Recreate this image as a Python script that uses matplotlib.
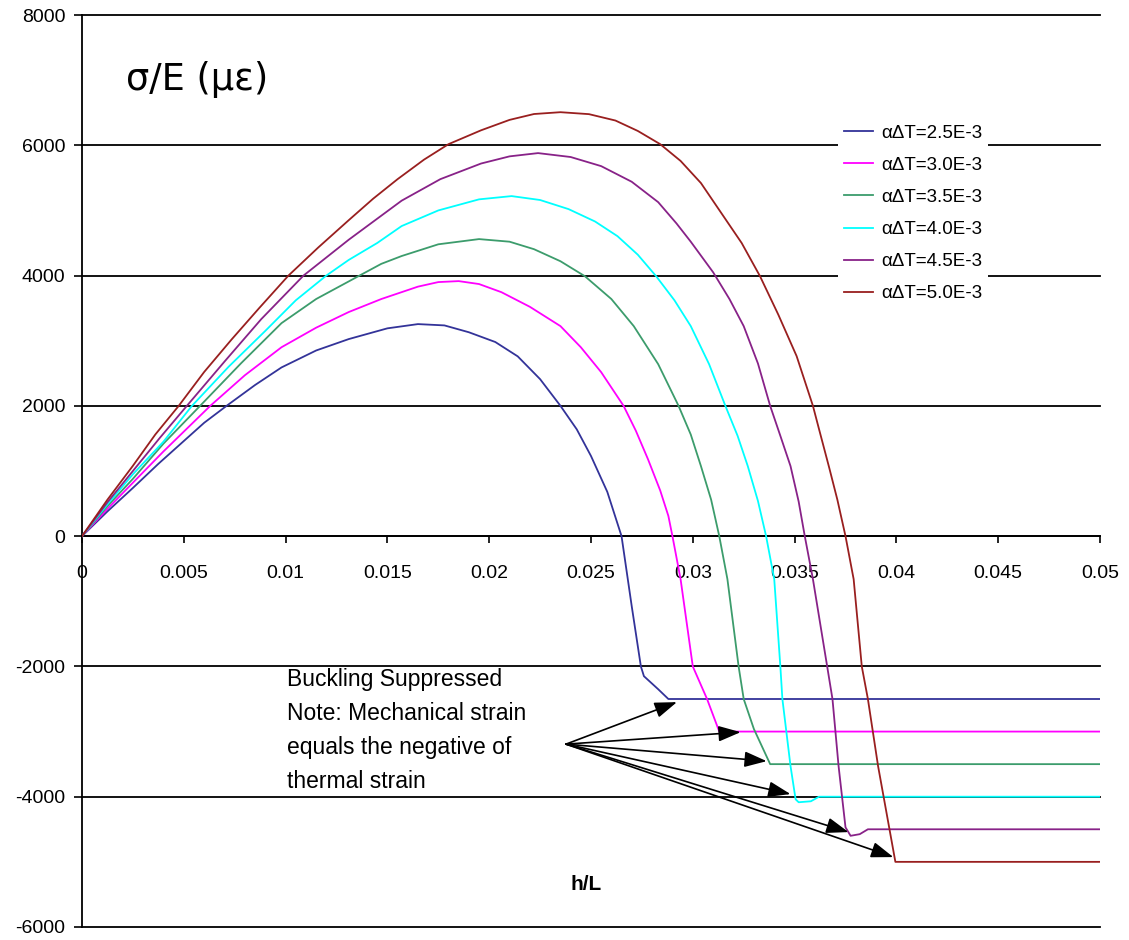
import matplotlib.pyplot as plt
from matplotlib.ticker import FixedLocator, FixedFormatter

plt.rcParams['font.family'] = ['Liberation Sans', 'DejaVu Sans']
plt.rcParams['axes.unicode_minus'] = False

# h/L values and sigma/E (micro-strain) for each thermal load
labels = ['αΔT=2.5E-3', 'αΔT=3.0E-3', 'αΔT=3.5E-3', 'αΔT=4.0E-3', 'αΔT=4.5E-3', 'αΔT=5.0E-3']
colors = ['#333399', '#ff00ff', '#3c9c6c', '#00ffff', '#882288', '#991f1f']

hl_25 = [0, 0.00125, 0.0025, 0.00375, 0.005, 0.006, 0.0071, 0.0085, 0.0098, 0.0115, 0.0131,
         0.0150, 0.0165, 0.0178, 0.0190, 0.0203, 0.0214, 0.0225, 0.0235, 0.0243, 0.0250,
         0.0258, 0.0265, 0.0270, 0.02745, 0.0276, 0.0283, 0.0288, 0.05]
s_25 = [0, 380, 740, 1110, 1460, 1740, 2000, 2320, 2590, 2850, 3025,
        3190, 3255, 3235, 3130, 2980, 2760, 2410, 2000, 1640, 1230,
        680, 0, -1075, -2000, -2150, -2350, -2500, -2500]

hl_30 = [0, 0.00125, 0.0025, 0.004, 0.0063, 0.008, 0.0098, 0.0115, 0.0131, 0.0147, 0.0165,
         0.0175, 0.0185, 0.0195, 0.0206, 0.0220, 0.0235, 0.0245, 0.0255, 0.0266, 0.0272,
         0.0278, 0.0284, 0.0288, 0.0290, 0.0294, 0.0300, 0.0307, 0.0313, 0.05]
s_30 = [0, 420, 820, 1300, 2000, 2470, 2900, 3200, 3440, 3640, 3830,
        3900, 3915, 3870, 3745, 3520, 3224, 2900, 2517, 2000, 1620,
        1180, 700, 310, 0, -660, -2000, -2500, -3000, -3000]

hl_35 = [0, 0.00125, 0.0025, 0.004, 0.0058, 0.0078, 0.0098, 0.0115, 0.0131, 0.01363, 0.0147,
         0.0157, 0.0175, 0.0195, 0.0210, 0.0222, 0.0235, 0.0247, 0.0260, 0.0271, 0.0283,
         0.0293, 0.0299, 0.0304, 0.0309, 0.0313, 0.0317, 0.03225, 0.0325, 0.0330, 0.0338, 0.05]
s_35 = [0, 460, 880, 1420, 2000, 2650, 3270, 3640, 3910, 4000, 4180,
        4300, 4480, 4560, 4520, 4405, 4220, 3990, 3640, 3224, 2640,
        2000, 1560, 1075, 560, 0, -660, -2000, -2500, -2960, -3500, -3500]

hl_40 = [0, 0.00125, 0.0025, 0.004, 0.0054, 0.0072, 0.0090, 0.0105, 0.0120, 0.0131, 0.0145,
         0.0157, 0.0175, 0.0195, 0.0211, 0.0225, 0.0239, 0.0252, 0.0263, 0.0273, 0.0282,
         0.0291, 0.0299, 0.0308, 0.0316, 0.0322, 0.0327, 0.0332, 0.0336, 0.0340, 0.0343,
         0.0344, 0.0348, 0.03505, 0.0352, 0.0358, 0.0362, 0.05]
s_40 = [0, 490, 950, 1450, 2000, 2600, 3150, 3620, 4000, 4240, 4500,
        4760, 5000, 5170, 5220, 5160, 5020, 4830, 4605, 4320, 3990,
        3620, 3224, 2640, 2000, 1540, 1075, 540, 0, -660, -2000,
        -2500, -3530, -4040, -4085, -4070, -4000, -4000]

hl_45 = [0, 0.00125, 0.0025, 0.0038, 0.00515, 0.007, 0.0088, 0.01088, 0.0131, 0.0157, 0.0176,
         0.0196, 0.0210, 0.0224, 0.0240, 0.0255, 0.0270, 0.0283, 0.0292, 0.0299, 0.0310,
         0.0318, 0.0325, 0.0332, 0.0338, 0.0343, 0.0348, 0.0352, 0.0355, 0.0359, 0.0366,
         0.03686, 0.03716, 0.0375, 0.03775, 0.0382, 0.0386, 0.05]
s_45 = [0, 520, 1000, 1500, 2000, 2680, 3330, 4000, 4550, 5150, 5480,
        5720, 5830, 5880, 5820, 5680, 5440, 5127, 4800, 4520, 4050,
        3640, 3224, 2650, 2000, 1540, 1075, 530, 0, -660, -2000,
        -2500, -3530, -4470, -4600, -4575, -4500, -4500]

hl_50 = [0, 0.00125, 0.0025, 0.0036, 0.00475, 0.006, 0.00735, 0.0087, 0.01014, 0.0116, 0.0131,
         0.0143, 0.0155, 0.0168, 0.0180, 0.0196, 0.0210, 0.0222, 0.0235, 0.0249, 0.0262,
         0.0273, 0.0284, 0.0294, 0.0304, 0.0314, 0.0324, 0.0333, 0.0342, 0.0351, 0.0359,
         0.0362, 0.0367, 0.0371, 0.0375, 0.0379, 0.0383, 0.0386, 0.0391, 0.03995, 0.05]
s_50 = [0, 560, 1080, 1560, 2000, 2520, 3020, 3500, 4000, 4430, 4850,
        5180, 5480, 5780, 6017, 6230, 6390, 6480, 6508, 6478, 6380,
        6220, 6017, 5760, 5420, 4960, 4500, 3991, 3400, 2763, 2000,
        1642, 1050, 560, 0, -660, -2000, -2500, -3530, -5000, -5000]

series = [(hl_25, s_25), (hl_30, s_30), (hl_35, s_35),
          (hl_40, s_40), (hl_45, s_45), (hl_50, s_50)]

# arrows from the note to where each curve levels off
note_xy = (0.02377, -3193)
arrow_tips = [(0.02922, -2548), (0.03235, -3009), (0.03363, -3454),
              (0.0348, -3960), (0.03765, -4543), (0.03985, -4927)]

xticks = [0, 0.005, 0.01, 0.015, 0.02, 0.025, 0.03, 0.035, 0.04, 0.045, 0.05]
xtick_labels = ['0', '0.005', '0.01', '0.015', '0.02', '0.025', '0.03', '0.035', '0.04', '0.045', '0.05']
yticks = [-6000, -4000, -2000, 0, 2000, 4000, 6000, 8000]

W, H = 1129, 940
fig = plt.figure(figsize=(W / 100, H / 100), dpi=100)
ax = fig.add_axes([82 / W, 1 - 927 / H, (1100 - 82) / W, (927 - 15) / H])

for (hl, s), lab, c in zip(series, labels, colors):
    ax.plot(hl, s, color=c, lw=1.3, label=lab, zorder=3)

ax.set_xlim(0, 0.05)
ax.set_ylim(-6000, 8000)

for y in yticks:
    ax.axhline(y, color='black', lw=1.3, zorder=1, clip_on=False)

ax.spines['top'].set_visible(False)
ax.spines['right'].set_visible(False)
ax.spines['bottom'].set_position(('data', 0))
ax.spines['bottom'].set_linewidth(1.3)
ax.spines['left'].set_linewidth(1.3)

ax.xaxis.set_major_locator(FixedLocator(xticks))
ax.xaxis.set_major_formatter(FixedFormatter(xtick_labels))
ax.yaxis.set_major_locator(FixedLocator(yticks))
ax.tick_params(axis='x', direction='out', length=5, width=1.2, pad=16, labelsize=14)
ax.tick_params(axis='y', direction='out', length=6, width=1.2, pad=6, labelsize=14)

fig.text(126 / W, 1 - 80 / H, 'σ/E (με)', fontsize=26.5, family='DejaVu Sans',
         va='center', ha='left')
ax.text(0.02475, -5342, 'h/L', fontsize=15, fontweight='bold', ha='center', va='center')

fig.text(287 / W, 1 - 668 / H,
         'Buckling Suppressed\nNote: Mechanical strain\nequals the negative of\nthermal strain',
         fontsize=16.5, va='top', ha='left', linespacing=1.62)

for tip in arrow_tips:
    ax.annotate('', xy=tip, xytext=note_xy,
                arrowprops=dict(arrowstyle='-|>,head_length=0.85,head_width=0.3',
                                mutation_scale=16, lw=1.2, color='black',
                                shrinkA=0, shrinkB=0), zorder=4)

leg = ax.legend(loc='upper left', bbox_to_anchor=(838 / W, 1 - 119 / H),
                bbox_transform=fig.transFigure, fontsize=13.5, frameon=True,
                handlelength=1.55, handletextpad=0.45, labelspacing=0.8,
                borderpad=0.3, borderaxespad=0)
leg.get_frame().set_facecolor('white')
leg.get_frame().set_edgecolor('none')
leg.get_frame().set_alpha(1)

fig.savefig('out.png', dpi=100)
